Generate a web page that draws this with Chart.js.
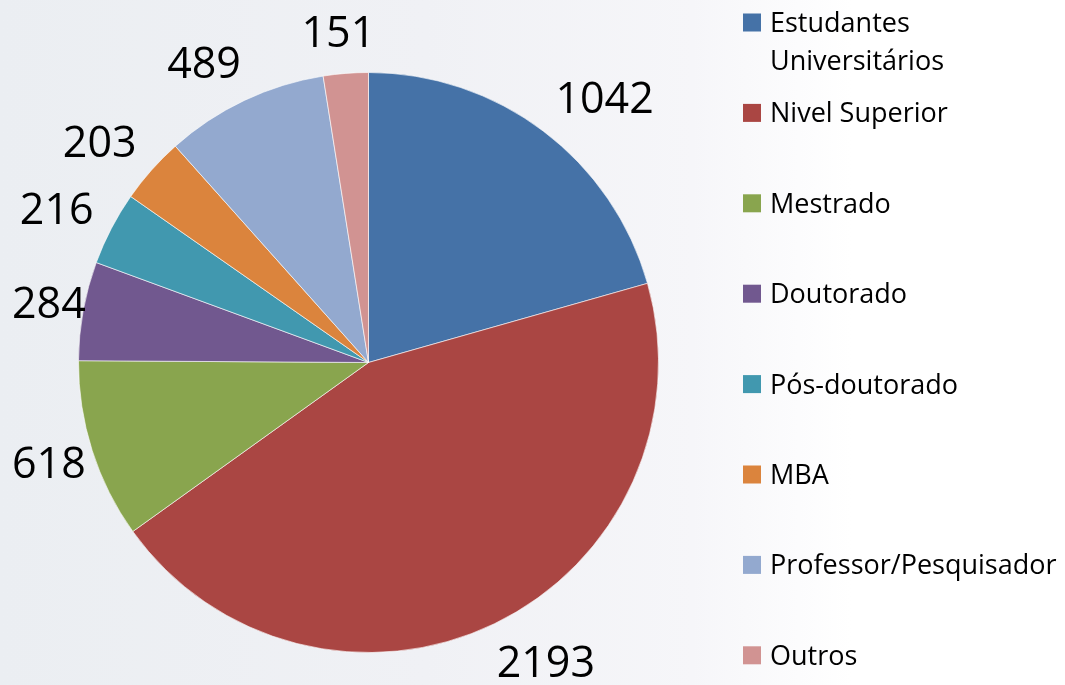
<!DOCTYPE html>
<html>
<head>
<meta charset="utf-8">
<script src="https://cdn.jsdelivr.net/npm/chart.js@4"></script>
<style>
  html, body { margin: 0; padding: 0; }
  #wrap {
    width: 1065px;
    height: 685px;
    overflow: hidden;
    background: linear-gradient(to right, #ebeef2 0%, #f0f1f5 40%, #f6f6f9 65%, #ffffff 80%, #ffffff 100%);
  }
</style>
</head>
<body>
<div id="wrap"><canvas id="chart" width="1065" height="685"></canvas></div>
<script>
// categorias
const categories = [
  "Estudantes Universitários",
  "Nivel Superior",
  "Mestrado",
  "Doutorado",
  "Pós-doutorado",
  "MBA",
  "Professor/Pesquisador",
  "Outros",
];
// números impressos como rótulos
const counts = [1042, 2193, 618, 284, 216, 203, 489, 151];
// tamanho das fatias como aparecem no gráfico (% da pizza, lido dos ângulos)
const sliceShares = [20.6, 44.5, 10.0, 5.5, 4.1, 3.7, 9.1, 2.5];
const colors = [
  "#4572a7",
  "#aa4643",
  "#89a54e",
  "#71588f",
  "#4198af",
  "#db843d",
  "#93a9cf",
  "#d19392",
];

const FONT = "'Open Sans', 'DejaVu Sans', sans-serif";

// rótulos dos valores fora da pizza (encostados na borda, sem sair pela esquerda)
const valueLabels = {
  id: "valueLabels",
  afterDatasetsDraw(chart) {
    const ctx = chart.ctx;
    const meta = chart.getDatasetMeta(0);
    ctx.save();
    ctx.font = "43px " + FONT;
    ctx.fillStyle = "#000";
    ctx.textAlign = "center";
    ctx.textBaseline = "alphabetic";
    meta.data.forEach(function (arc, i) {
      const p = arc.getProps(["x", "y", "startAngle", "endAngle", "outerRadius"], true);
      const mid = (p.startAngle + p.endAngle) / 2;
      const cos = Math.cos(mid);
      const sin = Math.sin(mid);
      const r = p.outerRadius + 20;
      const text = String(counts[i]);
      const w = ctx.measureText(text).width;
      let cx = p.x + cos * r + Math.sign(cos) * (w / 2) * Math.min(1, 2 * Math.abs(cos));
      cx = Math.max(cx, 12 + w / 2);
      const cy = p.y + sin * r + sin * 22;
      ctx.fillText(text, cx, cy + 15);
    });
    ctx.restore();
  },
};

// legenda desenhada à direita, com quebra de linha
const sideLegend = {
  id: "sideLegend",
  afterDraw(chart) {
    const ctx = chart.ctx;
    const items = Chart.overrides.doughnut.plugins.legend.labels.generateLabels(chart);
    const left = 743;
    const textX = 770;
    const maxW = 1065 - textX;
    const step = 90.4;
    ctx.save();
    ctx.font = "27px " + FONT;
    ctx.textAlign = "left";
    ctx.textBaseline = "alphabetic";
    items.forEach(function (item, i) {
      const centerY = 22.5 + i * step;
      ctx.fillStyle = item.fillStyle;
      ctx.fillRect(left, centerY - 9, 18, 18);
      // quebra por espaços
      const words = item.text.split(" ");
      const lines = [];
      let line = "";
      words.forEach(function (w) {
        const test = line ? line + " " + w : w;
        if (line && ctx.measureText(test).width > maxW) {
          lines.push(line);
          line = w;
        } else {
          line = test;
        }
      });
      lines.push(line);
      ctx.fillStyle = "#000";
      lines.forEach(function (l, j) {
        ctx.fillText(l, textX, centerY + 9.5 + j * 38);
      });
    });
    ctx.restore();
  },
};

const config = {
  type: "pie",
  data: {
    labels: categories,
    datasets: [
      {
        data: sliceShares,
        backgroundColor: colors,
        borderColor: "rgba(255,255,255,0.6)",
        borderWidth: 1,
        hoverOffset: 0,
      },
    ],
  },
  options: {
    responsive: false,
    animation: false,
    layout: {
      padding: { left: 78, right: 406, top: 72, bottom: 32 },
    },
    plugins: {
      legend: { display: false },
      tooltip: { enabled: false },
    },
  },
  plugins: [valueLabels, sideLegend],
};

window.myChart = new Chart(document.getElementById("chart"), config);
</script>
</body>
</html>
